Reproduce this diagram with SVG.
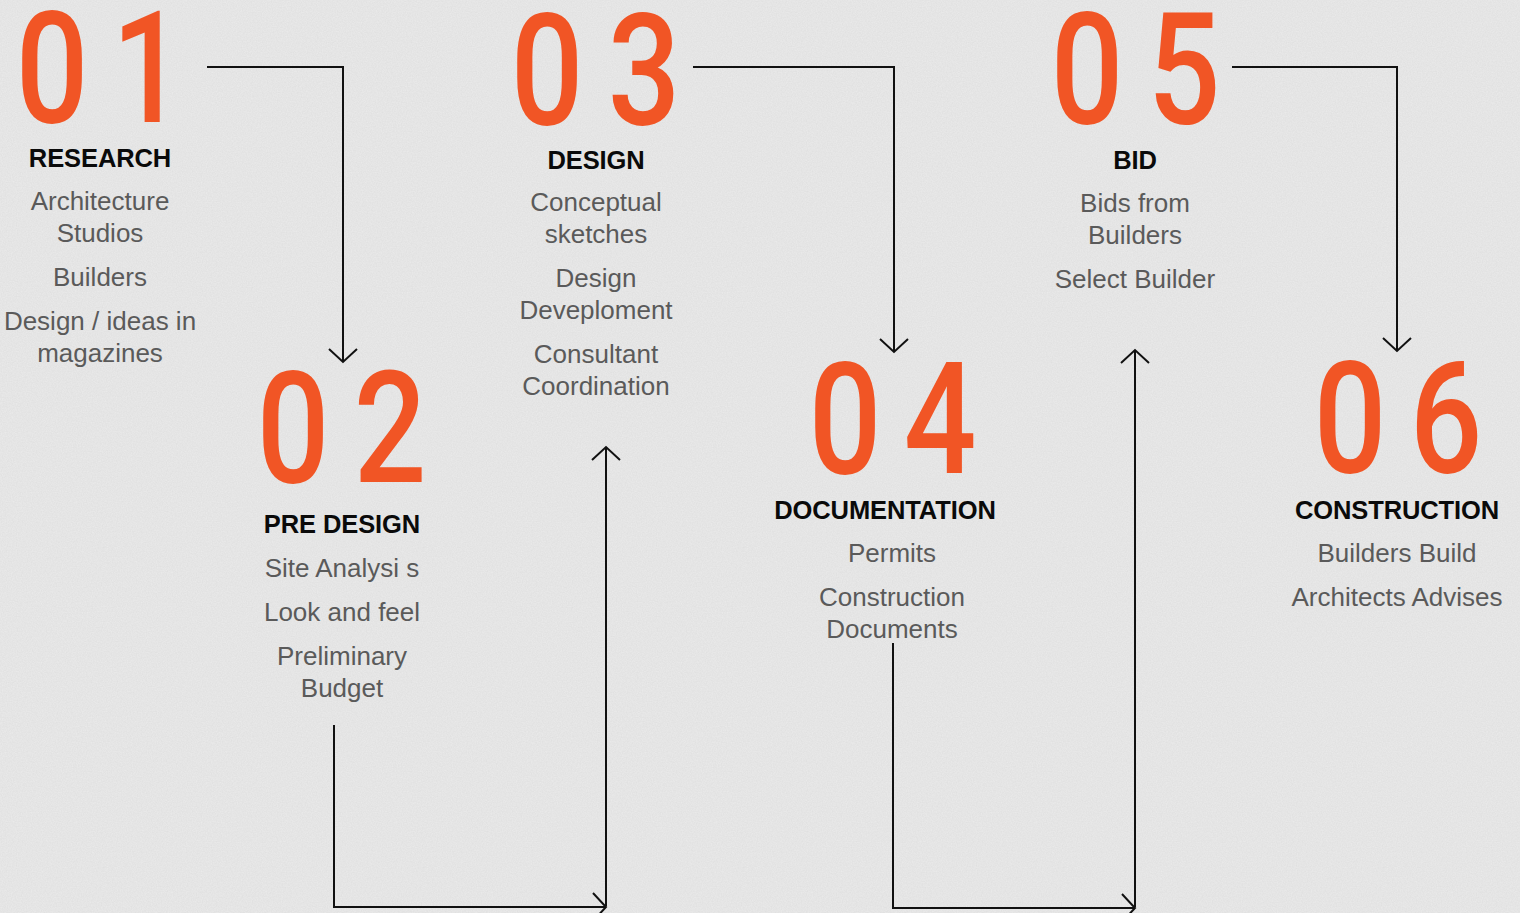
<svg xmlns="http://www.w3.org/2000/svg" width="1520" height="913" viewBox="0 0 1520 913">
<defs>
<style>
.num{font-family:Roboto,"DejaVu Sans",sans-serif;font-weight:500;font-size:156px;fill:#f15525;text-anchor:middle}
.hd{font-family:"Liberation Sans",Arial,sans-serif;font-weight:bold;font-size:25.5px;fill:#0a0a0a;text-anchor:middle;letter-spacing:-0.1px}
.tx{font-family:"Liberation Sans",Arial,sans-serif;font-size:26px;fill:#5a5a5a;text-anchor:middle}
.cn{fill:none;stroke:#111;stroke-width:2}
</style>
<marker id="chev" markerUnits="userSpaceOnUse" markerWidth="30" markerHeight="32" viewBox="-15 -16 30 32" refX="0" refY="0" orient="auto" overflow="visible">
<path d="M-13,-14 L0,0 L-13,14" fill="none" stroke="#111" stroke-width="2"/>
</marker>
<filter id="noise" x="0" y="0" width="100%" height="100%">
<feTurbulence type="fractalNoise" baseFrequency="0.8" numOctaves="3" seed="3"/>
<feColorMatrix type="matrix" values="0 0 0 0 0.45  0 0 0 0 0.45  0 0 0 0 0.45  0 0 0 0.22 0"/>
</filter>
</defs>
<rect width="1520" height="913" fill="#ebebeb"/>
<rect width="1520" height="913" filter="url(#noise)"/>

<g id="connectors">
<path class="cn" d="M207,67 H343 V362" marker-end="url(#chev)"/>
<path class="cn" d="M334,725 V907 H606" marker-end="url(#chev)"/>
<path class="cn" d="M606,906 V447" marker-end="url(#chev)"/>
<path class="cn" d="M693,67 H894 V352" marker-end="url(#chev)"/>
<path class="cn" d="M893,643 V908 H1135" marker-end="url(#chev)"/>
<path class="cn" d="M1135,907 V350" marker-end="url(#chev)"/>
<path class="cn" d="M1232,67 H1397 V351" marker-end="url(#chev)"/>
</g>

<g id="step01">
<g transform="translate(52,122) scale(0.82,1)"><text class="num" x="0" y="0">0</text></g>
<g transform="translate(148,122) scale(0.82,1)"><text class="num" x="0" y="0">1</text></g>
<text class="hd" x="100" y="167">RESEARCH</text>
<text class="tx" x="100" y="210">Architecture</text>
<text class="tx" x="100" y="242">Studios</text>
<text class="tx" x="100" y="286">Builders</text>
<text class="tx" x="100" y="330">Design / ideas in</text>
<text class="tx" x="100" y="362">magazines</text>
</g>

<g id="step02">
<g transform="translate(293,482) scale(0.82,1)"><text class="num" x="0" y="0">0</text></g>
<g transform="translate(390,482) scale(0.82,1)"><text class="num" x="0" y="0">2</text></g>
<text class="hd" x="342" y="533">PRE DESIGN</text>
<text class="tx" x="342" y="577">Site Analysi s</text>
<text class="tx" x="342" y="621">Look and feel</text>
<text class="tx" x="342" y="665">Preliminary</text>
<text class="tx" x="342" y="697">Budget</text>
</g>

<g id="step03">
<g transform="translate(547,124) scale(0.82,1)"><text class="num" x="0" y="0">0</text></g>
<g transform="translate(644,124) scale(0.82,1)"><text class="num" x="0" y="0">3</text></g>
<text class="hd" x="596" y="169">DESIGN</text>
<text class="tx" x="596" y="211">Conceptual</text>
<text class="tx" x="596" y="243">sketches</text>
<text class="tx" x="596" y="287">Design</text>
<text class="tx" x="596" y="319">Deveploment</text>
<text class="tx" x="596" y="363">Consultant</text>
<text class="tx" x="596" y="395">Coordination</text>
</g>

<g id="step04">
<g transform="translate(845,473) scale(0.82,1)"><text class="num" x="0" y="0">0</text></g>
<g transform="translate(940,473) scale(0.82,1)"><text class="num" x="0" y="0">4</text></g>
<text class="hd" x="885" y="519">DOCUMENTATION</text>
<text class="tx" x="892" y="562">Permits</text>
<text class="tx" x="892" y="606">Construction</text>
<text class="tx" x="892" y="638">Documents</text>
</g>

<g id="step05">
<g transform="translate(1087,123) scale(0.82,1)"><text class="num" x="0" y="0">0</text></g>
<g transform="translate(1184,123) scale(0.82,1)"><text class="num" x="0" y="0">5</text></g>
<text class="hd" x="1135" y="169">BID</text>
<text class="tx" x="1135" y="212">Bids from</text>
<text class="tx" x="1135" y="244">Builders</text>
<text class="tx" x="1135" y="288">Select Builder</text>
</g>

<g id="step06">
<g transform="translate(1350,472) scale(0.82,1)"><text class="num" x="0" y="0">0</text></g>
<g transform="translate(1446,472) scale(0.82,1)"><text class="num" x="0" y="0">6</text></g>
<text class="hd" x="1397" y="519">CONSTRUCTION</text>
<text class="tx" x="1397" y="562">Builders Build</text>
<text class="tx" x="1397" y="606">Architects Advises</text>
</g>
</svg>
